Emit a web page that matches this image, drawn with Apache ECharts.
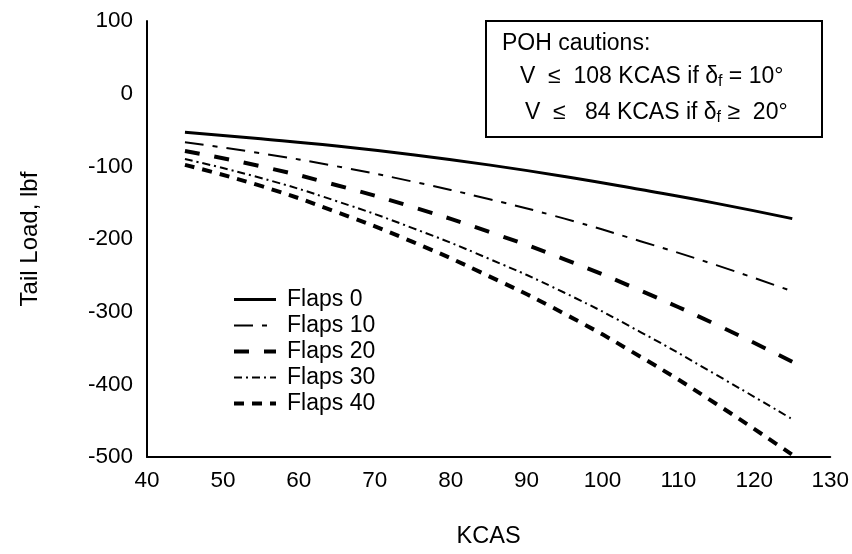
<!DOCTYPE html>
<html>
<head>
<meta charset="utf-8">
<script src="https://cdn.jsdelivr.net/npm/echarts@6/dist/echarts.min.js"></script>
<style>
  html, body { margin: 0; padding: 0; background: #fff; }
  #chart { width: 852px; height: 554px; }
</style>
</head>
<body>
<div id="chart"></div>
<script>
const kcas = [45, 55, 65, 75, 85, 95, 105, 115, 125]
const flaps0 = [-53, -62, -72, -84, -98, -114, -132, -151, -172]
const flaps10 = [-67, -82, -100, -121, -145, -172, -203, -236, -272]
const flaps20 = [-79, -100, -126, -156, -190, -228, -271, -318, -369]
const flaps30 = [-90, -116, -148, -185, -227, -274, -328, -387, -448]
const flaps40 = [-98, -127, -163, -204, -251, -303, -362, -427, -497]

const seriesNames = ['Flaps 0', 'Flaps 10', 'Flaps 20', 'Flaps 30', 'Flaps 40']
const xRange = [40, 130]
const yRange = [-500, 100]

const FONT = 'Liberation Sans'
const INK = '#000'

const styles = [
  { width: 3, type: 'solid' },
  { width: 2, type: [19, 9, 5, 9] },
  { width: 4, type: [15, 15] },
  { width: 2, type: [8, 4, 2, 4] },
  { width: 4, type: [10, 8] }
]

const values = [flaps0, flaps10, flaps20, flaps30, flaps40]

const chart = echarts.init(document.getElementById('chart'))

const boxRich = {
  n: { fontFamily: FONT, fontSize: 23, fill: INK },
  s: { fontFamily: FONT, fontSize: 16, fill: INK, padding: [10, 0, 0, 0] }
}

const option = {
  backgroundColor: '#fff',
  animation: false,
  grid: { left: 147, right: 20, top: 21, bottom: 93 },
  xAxis: {
    type: 'value',
    min: xRange[0],
    max: xRange[1],
    interval: 10,
    name: 'KCAS',
    nameLocation: 'middle',
    nameGap: 68,
    nameTextStyle: { fontFamily: FONT, fontSize: 23.5, color: INK },
    axisLine: { onZero: false, lineStyle: { color: INK, width: 2 } },
    axisTick: { show: false },
    splitLine: { show: false },
    axisLabel: { fontFamily: FONT, fontSize: 22.5, color: INK, margin: 12 }
  },
  yAxis: {
    type: 'value',
    min: yRange[0],
    max: yRange[1],
    interval: 100,
    name: 'Tail Load, lbf',
    nameLocation: 'middle',
    nameGap: 105,
    nameTextStyle: { fontFamily: FONT, fontSize: 24, color: INK },
    axisLine: { show: true, onZero: false, lineStyle: { color: INK, width: 2 } },
    axisTick: { show: false },
    splitLine: { show: false },
    axisLabel: { fontFamily: FONT, fontSize: 22.5, color: INK, margin: 14 }
  },
  legend: {
    orient: 'vertical',
    left: 227,
    top: 283,
    itemWidth: 42,
    itemHeight: 14,
    itemGap: 3,
    textStyle: { fontFamily: FONT, fontSize: 23, color: INK, lineHeight: 21, padding: [0, 0, 0, 6] },
    data: seriesNames.map((n, i) => ({
      name: n,
      itemStyle: { opacity: 0 },
      lineStyle: { color: INK, width: styles[i].width, type: styles[i].type }
    }))
  },
  series: seriesNames.map((n, i) => ({
    name: n,
    type: 'line',
    smooth: true,
    symbol: 'none',
    color: INK,
    lineStyle: { color: INK, width: styles[i].width, type: styles[i].type },
    data: kcas.map((x, j) => [x, values[i][j]])
  })),
  graphic: [
    {
      type: 'rect',
      shape: { x: 486, y: 21, width: 336, height: 116 },
      style: { fill: '#fff', stroke: INK, lineWidth: 2 },
      z: 10
    },
    {
      type: 'text', x: 502, y: 44, z: 11,
      style: { text: 'POH cautions:', font: '23px "Liberation Sans"', fill: INK, verticalAlign: 'middle' }
    },
    {
      type: 'text', x: 520, y: 77, z: 11,
      style: {
        text: '{n|V  ≤  108 KCAS if δ}{s|f}{n| = 10°}',
        verticalAlign: 'middle',
        rich: boxRich
      }
    },
    {
      type: 'text', x: 525, y: 113, z: 11,
      style: {
        text: '{n|V  ≤   84 KCAS if δ}{s|f}{n| ≥  20°}',
        verticalAlign: 'middle',
        rich: boxRich
      }
    }
  ]
}

chart.setOption(option)
</script>
</body>
</html>
